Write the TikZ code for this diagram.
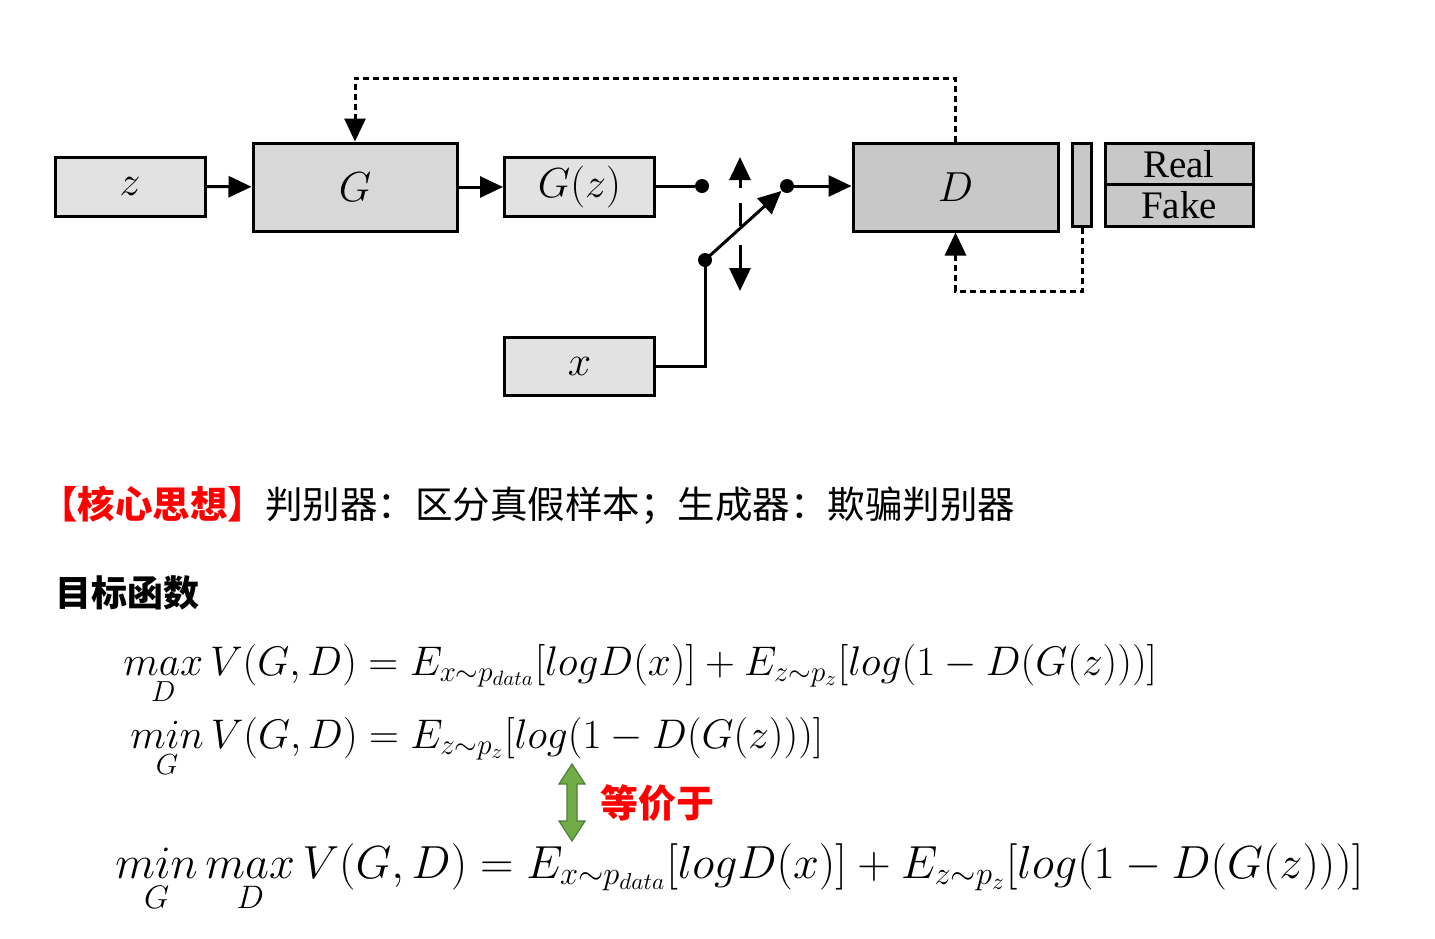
\documentclass[tikz,border=0pt]{standalone}
\usepackage{fix-cm}
\usepackage{fontspec}
\usepackage{amsmath}
\newfontfamily\cjk{Noto Sans CJK SC}
\newfontfamily\timesf{Liberation Serif}
\usetikzlibrary{arrows.meta}
\definecolor{lightbox}{HTML}{E2E2E2}
\definecolor{gbox}{HTML}{D8D8D8}
\definecolor{dbox}{HTML}{C8C8C8}
\definecolor{agreen}{HTML}{70AD47}
\definecolor{agreendark}{HTML}{507E32}
\definecolor{hred}{HTML}{FF0000}
\begin{document}
\begin{tikzpicture}[x=0.5pt,y=-0.5pt,
  blk/.style={draw=black,line width=1.5pt,inner sep=0pt,fill=lightbox,font=\fontsize{21}{24}\selectfont},
  conn/.style={line width=1.5pt,-{Triangle[length=11.5pt,width=10.5pt]}},
  wire/.style={line width=1.5pt},
  dconn/.style={line width=1.5pt,dash pattern=on 3pt off 2pt,-{Triangle[length=11.5pt,width=10.5pt]}},
  dot/.style={circle,fill=black,inner sep=0pt,minimum size=7pt},
  eq/.style={anchor=base west,inner sep=0pt},
]
\useasboundingbox[fill=white] (0,0) rectangle (1435,938);

% boxes
\node[blk,minimum width=75pt,minimum height=29.5pt] (z) at (130,186.5) {$z$};
\node[blk,fill=gbox,minimum width=102pt,minimum height=44pt] (G) at (355,187) {$G$};
\node[blk,minimum width=75pt,minimum height=29.5pt] (Gz) at (579.5,186.5) {$G(z)$};
\node[blk,minimum width=75pt,minimum height=29pt] (x) at (579.5,366.5) {$x$};
\node[blk,fill=dbox,minimum width=102.5pt,minimum height=44pt] (D) at (955.5,187) {$D$};
\node[blk,fill=dbox,minimum width=9.5pt,minimum height=41.5pt] (bar) at (1082,184.5) {};
\node[blk,fill=dbox,minimum width=74pt,minimum height=21pt,font=\timesf\fontsize{19.5}{22}\selectfont] (real) at (1179,164) {Real};
\node[blk,fill=dbox,minimum width=74pt,minimum height=21pt,font=\timesf\fontsize{19.5}{22}\selectfont] (fake) at (1179,205.5) {Fake};

% switch
\node[dot] (d1) at (702,186) {};
\node[dot] (d2) at (787,186) {};
\node[dot] (d3) at (705,260) {};
\coordinate (u0) at (740,188);
\coordinate (u1) at (740,157);
\coordinate (m0) at (740,203);
\coordinate (m1) at (740,226);
\coordinate (w0) at (740,245);
\coordinate (w1) at (740,291);
\coordinate (top) at (0,78);
\coordinate (bot) at (0,291);

\draw[conn] (z) -- (G);
\draw[conn] (G) -- (G.east -| Gz.west);
\draw[wire] (Gz.east |- d1) -- (d1);
\draw[conn] (d3.center) -- (d2);
\draw[conn] (d2.center) -- (d2 -| D.west);
\draw[wire] (x.east) -| (d3.center);
\draw[conn] (u0) -- (u1);
\draw[wire] (m0) -- (m1);
\draw[conn] (w0) -- (w1);

\draw[dconn] (D.north) -- (D.north |- top) -| (G.north);
\draw[dconn] (bar.south) -- (bar.south |- bot) -| (D.south);

% texts
\node[anchor=west,inner sep=0pt,font=\cjk\fontsize{18.75}{22}\selectfont] (idea) at (40,505)
  {{\color{hred}\bfseries 【核心思想】}判别器：区分真假样本；生成器：欺骗判别器};
\node[anchor=west,inner sep=0pt,font=\cjk\bfseries\fontsize{18}{22}\selectfont] (obj) at (55,593) {目标函数};

\node[eq,font=\fontsize{20.7}{24}\selectfont] (eq1) at (123,675)
  {$\mathop{max}\limits_{D} V(G,D) = E_{x\sim p_{data}}[log D(x)] + E_{z\sim p_z}[log(1-D(G(z)))]$};
\node[eq,font=\fontsize{20.7}{24}\selectfont] (eq2) at (130,748)
  {$\mathop{min}\limits_{G} V(G,D) = E_{z\sim p_z}[log(1-D(G(z)))]$};
\node[eq,font=\fontsize{23.2}{28}\selectfont] (eq3) at (115,878)
  {$\mathop{min}\limits_{G}\mathop{max}\limits_{D} V(G,D) = E_{x\sim p_{data}}[log D(x)] + E_{z\sim p_z}[log(1-D(G(z)))]$};

\draw[fill=agreen,draw=agreendark,line width=0.6pt]
  (572,764) -- (585,784) -- (577,784) -- (577,821) -- (585,821) -- (572,841)
  -- (559,821) -- (567,821) -- (567,784) -- (559,784) -- cycle;
\node[inner sep=0pt,font=\cjk\bfseries\fontsize{19}{22}\selectfont,text=hred] (eqv) at (657,803) {等价于};
\end{tikzpicture}
\end{document}
